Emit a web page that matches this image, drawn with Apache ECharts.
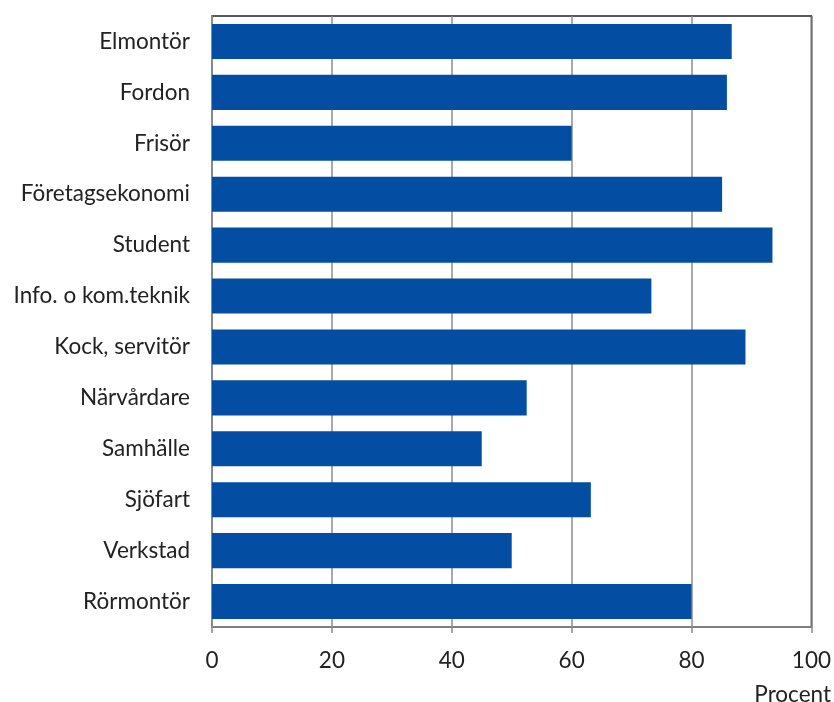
<!DOCTYPE html>
<html>
<head>
<meta charset="utf-8">
<script src="https://cdn.jsdelivr.net/npm/echarts@6/dist/echarts.min.js"></script>
<style>html,body{margin:0;padding:0;background:#fff}#c{width:834px;height:702px}</style>
</head>
<body>
<div id="c"></div>
<script>
const categories = ["Elmontör","Fordon","Frisör","Företagsekonomi","Student","Info. o kom.teknik","Kock, servitör","Närvårdare","Samhälle","Sjöfart","Verkstad","Rörmontör"];
const values = [86.7, 85.9, 60.0, 85.1, 93.5, 73.3, 89.0, 52.5, 45.0, 63.2, 50.0, 80.0];
const xTicks = [0, 20, 40, 60, 80, 100];
const axisTitle = "Procent";

const font = "Lato, 'Open Sans', sans-serif";
const chart = echarts.init(document.getElementById('c'), null, {renderer: 'canvas'});
chart.setOption({
  animation: false,
  grid: {left: 212, right: 22, top: 16, bottom: 75, show: true, borderColor: '#222', borderWidth: 1.5, backgroundColor: '#fff'},
  xAxis: {
    type: 'value', min: xTicks[0], max: xTicks[xTicks.length-1], interval: 20,
    axisLine: {show: true, lineStyle: {color: '#8c8c8c', width: 1.5}},
    axisTick: {show: true, length: 6, lineStyle: {color: '#8c8c8c', width: 1.5}},
    splitLine: {show: true, lineStyle: {color: '#8c8c8c', width: 1.5}},
    axisLabel: {color: '#222', fontSize: 22.5, fontFamily: font, margin: 22}
  },
  yAxis: {
    type: 'category', data: categories, inverse: true,
    axisLine: {show: true, lineStyle: {color: '#8c8c8c', width: 1.5}},
    axisTick: {show: false},
    axisLabel: {color: '#222', fontSize: 22.5, fontFamily: font, margin: 22}
  },
  series: [{
    type: 'bar', data: values, barCategoryGap: '31%',
    itemStyle: {color: '#034ea2'}
  }],
  graphic: [{
    type: 'text', right: 3, top: 683,
    style: {text: axisTitle, fill: '#222', font: '22.5px ' + font}
  }]
});
</script>
</body>
</html>
